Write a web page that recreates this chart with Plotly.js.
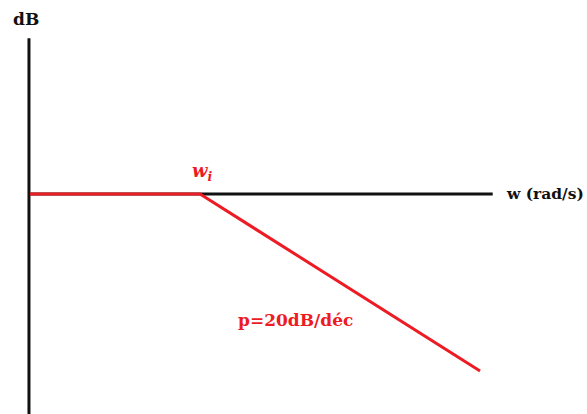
<!DOCTYPE html>
<html>
<head>
<meta charset="utf-8">
<script src="https://cdn.plot.ly/plotly-3.0.1.min.js"></script>
<style>html,body{margin:0;padding:0;background:#fff;}#chart{width:587px;height:414px;}</style>
</head>
<body>
<div id="chart"></div>
<script>
// Bode asymptote: flat 0 dB until w_i, then -20 dB/decade
var wi = 10;
var bodeW = [2.47, 10, 100];
var bodeDB = [0, 0, -20];
// axis extents
var hAxisW = [2.45, 111];
var hAxisDB = [0, 0];
var vAxisW = [2.45, 2.45];
var vAxisDB = [-25, 17.6];
var labels = {y: 'dB', x: 'w (rad/s)', corner: 'w', cornerSub: 'i', slope: 'p=20dB/déc'};

var red = '#ed1c24';
var black = '#111111';
var serif = 'DejaVu Serif, serif';

var traces = [
  {x: hAxisW, y: hAxisDB, mode: 'lines', line: {color: black, width: 3}, hoverinfo: 'skip'},
  {x: vAxisW, y: vAxisDB, mode: 'lines', line: {color: black, width: 3}, hoverinfo: 'skip'},
  {x: bodeW, y: bodeDB, mode: 'lines', line: {color: red, width: 3}, hoverinfo: 'skip'}
];

var layout = {
  width: 587, height: 414,
  margin: {l: 0, r: 0, t: 0, b: 0},
  paper_bgcolor: '#fff', plot_bgcolor: '#fff',
  showlegend: false,
  xaxis: {type: 'log', range: [0.2857, 2.382], visible: false, fixedrange: true},
  yaxis: {range: [-24.86, 21.92], visible: false, fixedrange: true},
  annotations: [
    {xref: 'paper', yref: 'paper', x: 26/587, y: 1 - 19/414, text: '<b>' + labels.y + '</b>', showarrow: false,
     font: {family: serif, size: 17, color: black}, xanchor: 'center', yanchor: 'middle'},
    {xref: 'paper', yref: 'y', x: 504/587, y: 0, text: '<b>' + labels.x + '</b>', showarrow: false,
     font: {family: serif, size: 15.5, color: black}, xanchor: 'left', yanchor: 'middle'},
    {xref: 'x', yref: 'y', x: Math.log10(wi), y: 0, text: '<b><i>' + labels.corner + '<sub>' + labels.cornerSub + '</sub></i></b>', showarrow: false,
     yshift: 22, xshift: 2, font: {family: serif, size: 18, color: red}, xanchor: 'center', yanchor: 'middle'},
    {xref: 'paper', yref: 'paper', x: 236/587, y: 1 - 320/414, text: '<b>' + labels.slope + '</b>', showarrow: false,
     font: {family: serif, size: 17, color: red}, xanchor: 'left', yanchor: 'middle'}
  ]
};

Plotly.newPlot('chart', traces, layout, {staticPlot: true, displayModeBar: false});
</script>
</body>
</html>
